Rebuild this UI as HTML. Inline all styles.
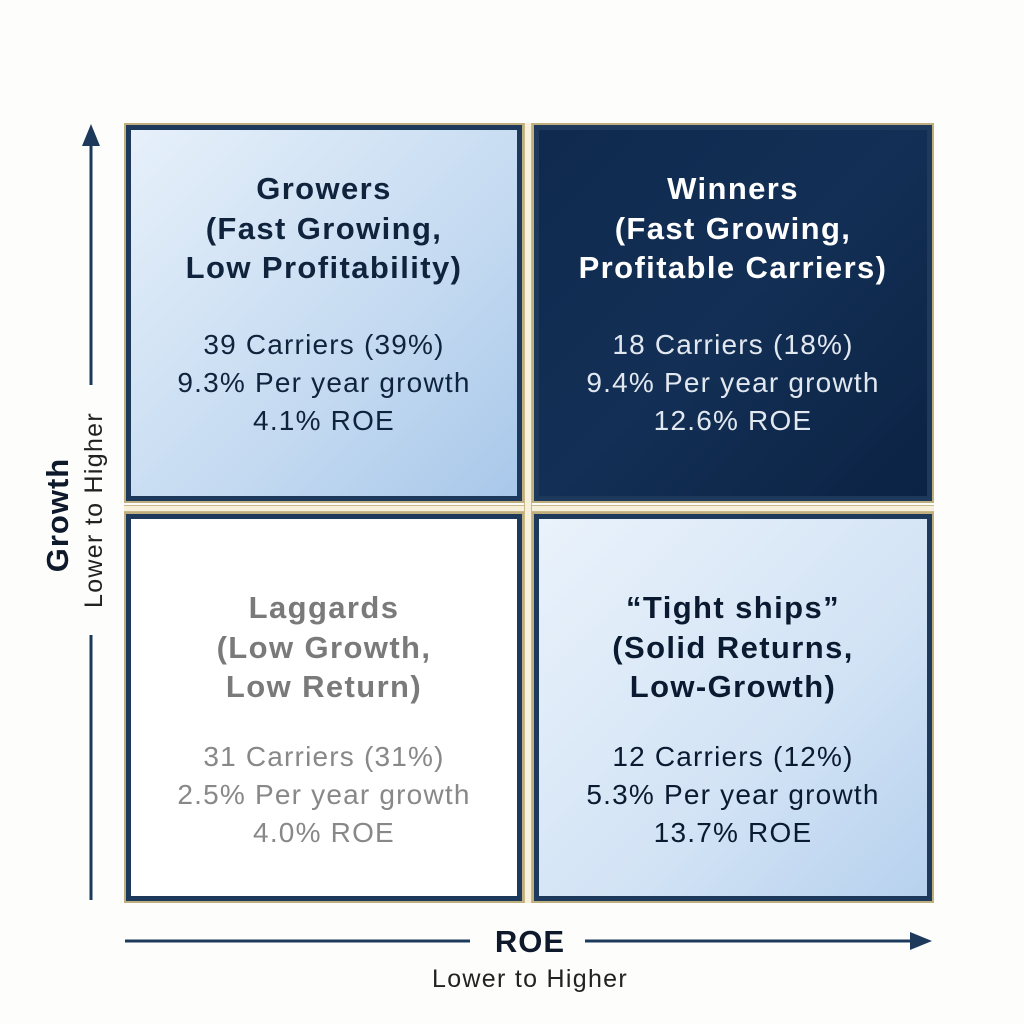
<!DOCTYPE html>
<html><head><style>
body{margin:0;width:1024px;height:1024px;background:#fdfdfc;font-family:"Liberation Sans",sans-serif;position:relative;overflow:hidden}
.box{position:absolute;box-sizing:border-box;border:2px solid #bfae7e;}
.in{position:absolute;inset:0;border:5px solid #1d3a5c;box-sizing:border-box;text-align:center}
.t{position:absolute;left:-20px;right:-20px;font-weight:bold;font-size:31px;letter-spacing:1.4px;line-height:39.5px}
.b{position:absolute;left:-20px;right:-20px;font-size:28px;letter-spacing:1.2px;line-height:38px}
.abs{position:absolute}
</style></head><body>
<div class="abs" style="left:124px;top:505px;width:810px;height:7px;background:#f7f1dc;border-top:1px solid #c9b98a;border-bottom:1px solid #c9b98a;box-sizing:border-box"></div>
<div class="abs" style="left:524px;top:123px;width:8px;height:780px;background:#f7f1dc;border-left:1px solid #c9b98a;border-right:1px solid #c9b98a;box-sizing:border-box"></div>

<div class="box" style="left:124px;top:123px;width:400px;height:380px">
<div class="in" style="background:linear-gradient(135deg,#e6f0fa,#c4daf1 60%,#a9c8ea);color:#10233d">
<div class="t" style="top:39px">Growers<br>(Fast Growing,<br>Low Profitability)</div>
<div class="b" style="top:196px">39 Carriers (39%)<br>9.3% Per year growth<br>4.1% ROE</div></div></div>

<div class="box" style="left:532px;top:123px;width:402px;height:380px">
<div class="in" style="background:linear-gradient(135deg,#0f2a4e,#132f55 50%,#0b2344);color:#fff">
<div class="t" style="top:39px">Winners<br>(Fast Growing,<br>Profitable Carriers)</div>
<div class="b" style="top:196px;color:#e2e8f0">18 Carriers (18%)<br>9.4% Per year growth<br>12.6% ROE</div></div></div>

<div class="box" style="left:124px;top:512px;width:400px;height:391px">
<div class="in" style="background:#fff;color:#7a7a7a">
<div class="t" style="top:69px">Laggards<br>(Low Growth,<br>Low Return)</div>
<div class="b" style="top:219px;color:#888">31 Carriers (31%)<br>2.5% Per year growth<br>4.0% ROE</div></div></div>

<div class="box" style="left:532px;top:512px;width:402px;height:391px">
<div class="in" style="background:linear-gradient(135deg,#eaf2fb,#d2e3f5 60%,#b7d1ee);color:#0a1a30">
<div class="t" style="top:69px">“Tight ships”<br>(Solid Returns,<br>Low-Growth)</div>
<div class="b" style="top:219px">12 Carriers (12%)<br>5.3% Per year growth<br>13.7% ROE</div></div></div>

<svg class="abs" style="left:0;top:0" width="1024" height="1024">
<g stroke="#1d3a5c" stroke-width="3" fill="#1d3a5c">
<line x1="91" y1="140" x2="91" y2="385"/><line x1="91" y1="635" x2="91" y2="900"/>
<polygon points="91,124 82,146 100,146" stroke="none"/>
<line x1="125" y1="941" x2="470" y2="941"/><line x1="585" y1="941" x2="915" y2="941"/>
<polygon points="932,941 910,932 910,950" stroke="none"/>
</g>
<text x="530" y="952" text-anchor="middle" font-weight="bold" font-size="31" letter-spacing="1" fill="#0e1a2c" font-family="Liberation Sans">ROE</text>
<text x="530" y="987" text-anchor="middle" font-size="25" letter-spacing="1.3" fill="#222" font-family="Liberation Sans">Lower to Higher</text>
<text transform="translate(68,515) rotate(-90)" text-anchor="middle" font-weight="bold" font-size="31" letter-spacing="1" fill="#0e1a2c" font-family="Liberation Sans">Growth</text>
<text transform="translate(102,510) rotate(-90)" text-anchor="middle" font-size="25" letter-spacing="1.3" fill="#222" font-family="Liberation Sans">Lower to Higher</text>
</svg>
</body></html>
